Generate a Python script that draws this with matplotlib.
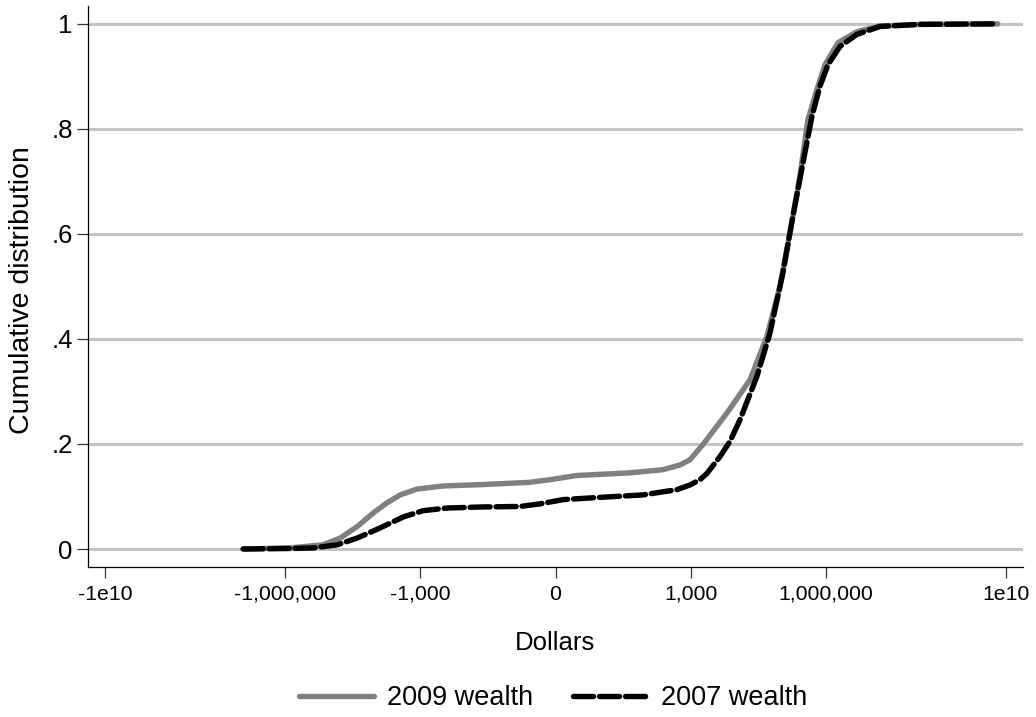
import numpy as np
import matplotlib
matplotlib.use("Agg")
import matplotlib.pyplot as plt
from matplotlib.ticker import FixedLocator, FixedFormatter

plt.rcParams["font.family"] = ["Liberation Sans", "DejaVu Sans"]

# values (dollars, cumulative share)
wealth_2009 = [-8.6e6, -7.8e5, -1.45e5, -6.0e4, -2.5e4, -1.1e4, -5500, -2800, -1200, -310,
               -46, -2.7, -0.32, 2.0, 44, 242, 580, 967, 1880, 6410, 20800, 49500,
               96200, 1.6e5, 2.67e5, 4.03e5, 6.38e5, 9.6e5, 1.87e6, 4.93e6, 1.6e7, 1.23e8, 6.6e9]
cdf_2009 = [0, 0.002, 0.008, 0.021, 0.043, 0.069, 0.088, 0.103, 0.114, 0.120,
            0.1225, 0.127, 0.132, 0.140, 0.145, 0.151, 0.160, 0.170, 0.199, 0.259, 0.322, 0.405,
            0.50, 0.602, 0.71, 0.818, 0.875, 0.922, 0.964, 0.985, 0.996, 0.999, 1.0]

wealth_2007 = [-8.6e6, -7.8e5, -2.4e5, -7.0e4, -2.5e4, -7900, -2400, -870, -255, -46,
               -5.1, -1.2, 0.47, 7.3, 86, 497, 967, 1614, 2306, 4490, 7480, 12470,
               29700, 57700, 1.12e5, 1.87e5, 3.12e5, 4.94e5, 7.43e5, 1.12e6, 2.07e6, 4.93e6,
               1.6e7, 1.23e8, 6.6e9]
cdf_2007 = [0, 0.001, 0.002, 0.008, 0.021, 0.040, 0.061, 0.073, 0.078, 0.080,
            0.081, 0.086, 0.094, 0.098, 0.103, 0.113, 0.122, 0.132, 0.144, 0.176, 0.205, 0.246,
            0.329, 0.411, 0.526, 0.634, 0.735, 0.824, 0.881, 0.922, 0.957, 0.980,
            0.995, 0.999, 1.0]

xticks = [-1e10, -1e6, -1e3, 0, 1e3, 1e6, 1e10]
xtick_labels = ["-1e10", "-1,000,000", "-1,000", "0", "1,000", "1,000,000", "1e10"]
yticks = [0, 0.2, 0.4, 0.6, 0.8, 1]
ytick_labels = ["0", ".2", ".4", ".6", ".8", "1"]


def fwd(x):
    x = np.asarray(x, dtype=float)
    return np.sign(x) * np.log10(1 + np.abs(x))


def inv(t):
    t = np.asarray(t, dtype=float)
    return np.sign(t) * (10 ** np.abs(t) - 1)


fig = plt.figure(figsize=(10.36, 7.17), dpi=100)
ax = fig.add_axes([88 / 1036, 1 - 566.7 / 717, (1023 - 88) / 1036, (566.7 - 6) / 717])

ax.plot(wealth_2009, cdf_2009, color="#808080", lw=3.9, solid_capstyle="round",
        label="2009 wealth", zorder=3)
ax.plot(wealth_2007, cdf_2007, color="black", lw=3.9, dashes=(3.7, 1.1),
        dash_capstyle="round", label="2007 wealth", zorder=4)

ax.set_xscale("function", functions=(fwd, inv))
ax.set_xlim(inv(-10.38), inv(10.38))
ax.set_ylim(-0.0337, 1.034)

ax.xaxis.set_major_locator(FixedLocator(xticks))
ax.xaxis.set_major_formatter(FixedFormatter(xtick_labels))
ax.xaxis.set_minor_locator(FixedLocator([]))
ax.set_yticks(yticks)
ax.set_yticklabels(ytick_labels)

ax.grid(axis="y", color="#c4c4c4", lw=2.2, zorder=0)
ax.set_axisbelow(True)
for s in ["top", "right"]:
    ax.spines[s].set_visible(False)
for s in ["left", "bottom"]:
    ax.spines[s].set_linewidth(0.9)
    ax.spines[s].set_color("black")

ax.tick_params(axis="x", length=8, width=0.9, color="#333333", labelsize=15.3, pad=5)
ax.tick_params(axis="y", length=8, width=0.9, color="#333333", labelsize=18.5, pad=3)

fig.text(555 / 1036, 1 - 650 / 717, "Dollars", ha="center", va="baseline", fontsize=18.5)
fig.text(22 / 1036, 1 - 290 / 717, "Cumulative distribution", ha="center", va="center",
         rotation=90, fontsize=20.5)

fig.legend(loc="center", bbox_to_anchor=(553 / 1036, 1 - 698 / 717), ncol=2, frameon=False,
           fontsize=19.5, handlelength=2.75, handletextpad=0.5, columnspacing=1.45)

fig.savefig("out.png", dpi=100)
